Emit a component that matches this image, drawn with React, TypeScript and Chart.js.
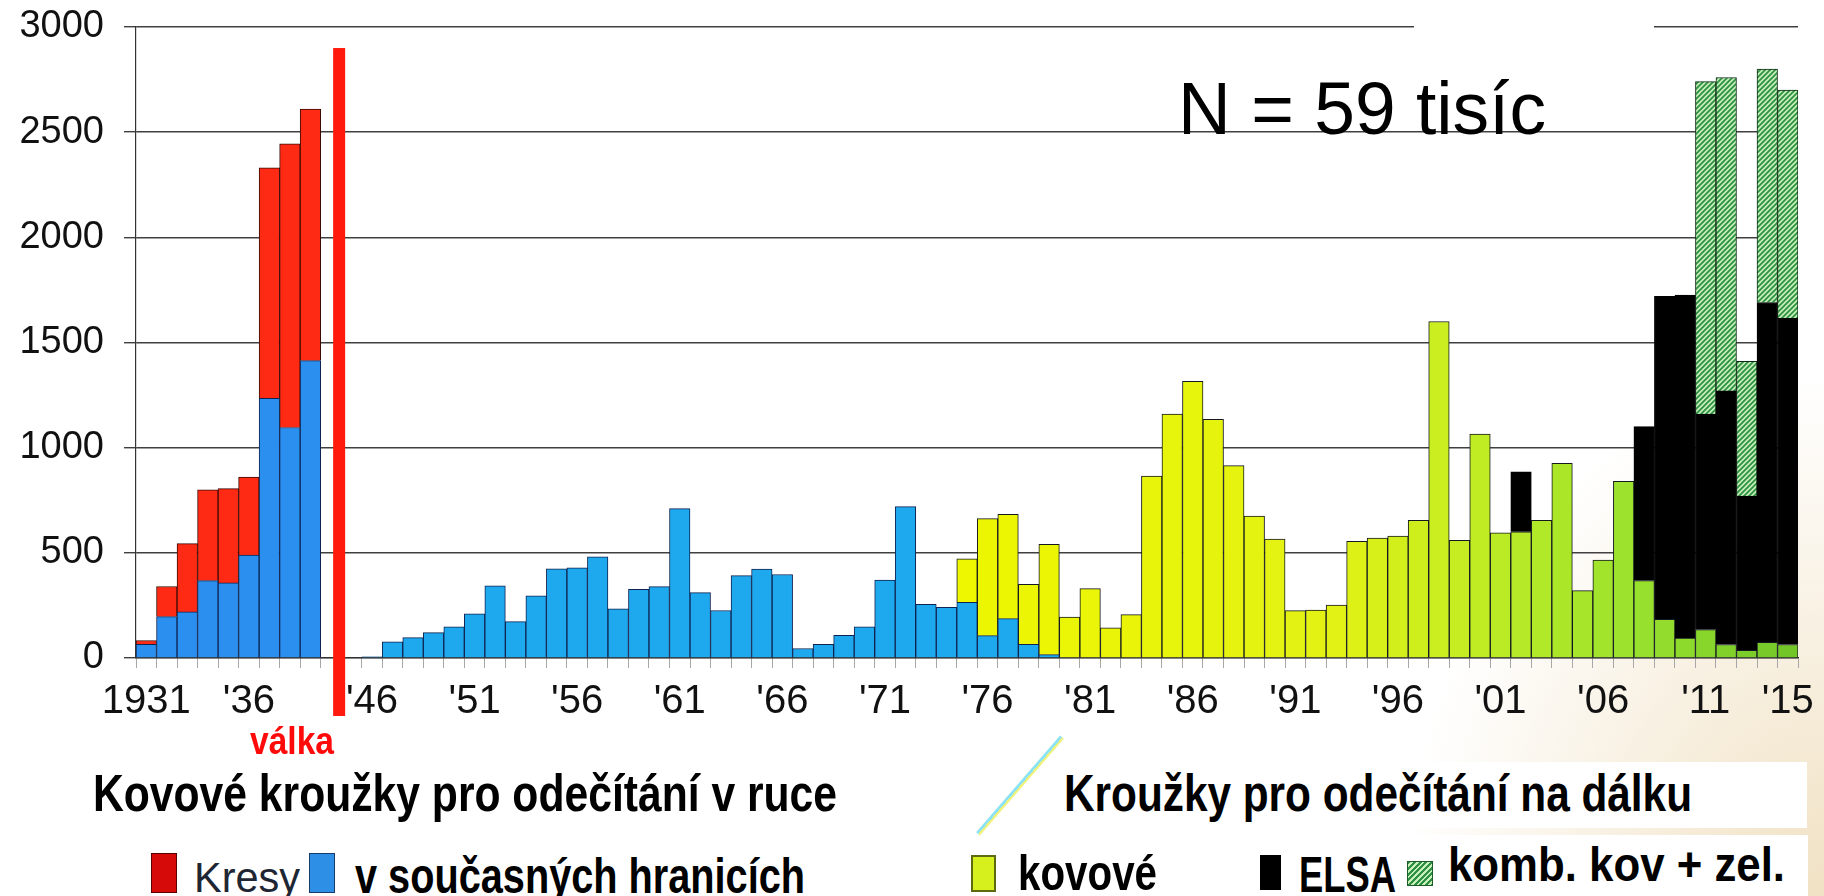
import React, { useEffect, useRef } from 'react';
import { Chart, registerables } from 'chart.js';

Chart.register(...registerables);

// ---------- DATA ----------
const categories = [
  '1931', '1932', '1933', '1934', '1935', '1936', '1937', '1938', '1939',
  '1940', '1945',
  '1946', '1947', '1948', '1949', '1950', '1951', '1952', '1953', '1954', '1955',
  '1956', '1957', '1958', '1959', '1960', '1961', '1962', '1963', '1964', '1965',
  '1966', '1967', '1968', '1969', '1970', '1971', '1972', '1973', '1974', '1975',
  '1976', '1977', '1978', '1979', '1980', '1981', '1982', '1983', '1984', '1985',
  '1986', '1987', '1988', '1989', '1990', '1991', '1992', '1993', '1994', '1995',
  '1996', '1997', '1998', '1999', '2000', '2001', '2002', '2003', '2004', '2005',
  '2006', '2007', '2008', '2009', '2010', '2011', '2012', '2013', '2014', '2015',
];

const N = null;

// v současných hranicích (blue)
const currentBorders = [
  65, 197, 219, 368, 357, 489, 1235, 1096, 1414,
  N, N,
  5, 77, 97, 121, 148, 210, 343, 173, 295, 424,
  429, 481, 234, 327, 339, 710, 311, 226, 392, 423,
  397, 45, 65, 108, 148, 371, 720, 255, 241, 265,
  106, 187, 65, 16, N, N, N, N, N, N,
  N, N, N, N, N, N, N, N, N, N,
  N, N, N, N, N, N, N, N, N, N,
  N, N, N, N, N, N, N, N, N, N,
];

// Kresy (red)
const kresy = [
  18, 143, 325, 432, 448, 371, 1096, 1349, 1196,
  N, N,
  N, N, N, N, N, N, N, N, N, N,
  N, N, N, N, N, N, N, N, N, N,
  N, N, N, N, N, N, N, N, N, N,
  N, N, N, N, N, N, N, N, N, N,
  N, N, N, N, N, N, N, N, N, N,
  N, N, N, N, N, N, N, N, N, N,
  N, N, N, N, N, N, N, N, N, N,
];

// kovové (yellow-green)
const kovove = [
  N, N, N, N, N, N, N, N, N,
  N, N,
  N, N, N, N, N, N, N, N, N, N,
  N, N, N, N, N, N, N, N, N, N,
  N, N, N, N, N, N, N, N, N, 207,
  557, 496, 285, 524, 195, 330, 143, 206, 865, 1160,
  1315, 1135, 915, 675, 565, 225, 228, 252, 555, 570,
  580, 655, 1600, 560, 1065, 595, 600, 655, 925, 320,
  465, 840, 368, 184, 95, 135, 64, 37, 74, 64,
];

// ELSA (black)
const elsa = [
  N, N, N, N, N, N, N, N, N,
  N, N,
  N, N, N, N, N, N, N, N, N, N,
  N, N, N, N, N, N, N, N, N, N,
  N, N, N, N, N, N, N, N, N, N,
  N, N, N, N, N, N, N, N, N, N,
  N, N, N, N, N, N, N, N, N, N,
  N, N, N, N, N, N, 285, N, N, N,
  N, N, 732, 1536, 1630, 1025, 1206, 733, 1616, 1551,
];

// komb. kov + zel. (hatched green)
const kombinovane = [
  N, N, N, N, N, N, N, N, N,
  N, N,
  N, N, N, N, N, N, N, N, N, N,
  N, N, N, N, N, N, N, N, N, N,
  N, N, N, N, N, N, N, N, N, N,
  N, N, N, N, N, N, N, N, N, N,
  N, N, N, N, N, N, N, N, N, N,
  N, N, N, N, N, N, N, N, N, N,
  N, N, N, N, N, 1580, 1490, 640, 1110, 1085,
];

const xTickYears = ['1931', '1936', '1946', '1951', '1956', '1961', '1966', '1971', '1976', '1981', '1986', '1991', '1996', '2001', '2006', '2011', '2015'];
const xTickTexts = ['1931', "'36", "'46", "'51", "'56", "'61", "'66", "'71", "'76", "'81", "'86", "'91", "'96", "'01", "'06", "'11", "'15"];

const warSlot = '1940';
const warLineTop = 2900;

// ---------- STYLE HELPERS ----------
const FONT = "'Liberation Sans', Arial, Helvetica, sans-serif";

const kovoveStops: [number, string][] = [
  [1975, '#eef600'],
  [1993, '#e2f214'],
  [2000, '#c0ec24'],
  [2008, '#98e02e'],
  [2015, '#72c628'],
];

function hexToRgb(h: string) {
  const n = parseInt(h.slice(1), 16);
  return [(n >> 16) & 255, (n >> 8) & 255, n & 255];
}

function kovoveColor(year: number) {
  if (year <= kovoveStops[0][0]) return kovoveStops[0][1];
  for (let i = 1; i < kovoveStops.length; i++) {
    const [y1, c1] = kovoveStops[i];
    const [y0, c0] = kovoveStops[i - 1];
    if (year <= y1) {
      const t = (year - y0) / (y1 - y0);
      const a = hexToRgb(c0);
      const b = hexToRgb(c1);
      const m = a.map((v, k) => Math.round(v + (b[k] - v) * t));
      return `rgb(${m[0]},${m[1]},${m[2]})`;
    }
  }
  return kovoveStops[kovoveStops.length - 1][1];
}

function makeHatch() {
  const s = 5;
  const c = document.createElement('canvas');
  c.width = s;
  c.height = s;
  const g = c.getContext('2d')!;
  g.fillStyle = '#c6f0b6';
  g.fillRect(0, 0, s, s);
  g.strokeStyle = '#2e9046';
  g.lineWidth = 1.8;
  g.beginPath();
  g.moveTo(0, s); g.lineTo(s, 0);
  g.moveTo(-1, 1); g.lineTo(1, -1);
  g.moveTo(s - 1, s + 1); g.lineTo(s + 1, s - 1);
  g.stroke();
  return g.createPattern(c, 'repeat')!;
}

const warLinePlugin = {
  id: 'warLine',
  afterDatasetsDraw(chart: any) {
    const { ctx, scales, chartArea } = chart;
    const x = scales.x;
    const y = scales.y;
    const idx = categories.indexOf(warSlot);
    const slot = x.width / categories.length;
    const cx = x.getPixelForValue(idx) + slot * 0.4;
    const top = y.getPixelForValue(warLineTop);
    const bottom = chartArea.bottom + 58;
    ctx.save();
    ctx.fillStyle = '#ff1a0d';
    ctx.fillRect(cx - 6, top, 12, bottom - top);
    ctx.restore();
  },
};

// ---------- TEXT ----------
let measureCtx: CanvasRenderingContext2D | null = null;
function measure(text: string, font: string) {
  if (!measureCtx) measureCtx = document.createElement('canvas').getContext('2d');
  measureCtx!.font = font;
  return measureCtx!.measureText(text).width;
}

function Txt(props: { text: string; left: number; baseline: number; size: number; bold?: boolean; width?: number; color?: string }) {
  const { text, left, baseline, size, bold, width, color } = props;
  const font = `${bold ? 'bold' : 'normal'} ${size}px ${FONT}`;
  const natural = measure(text, font);
  const sx = width ? width / natural : 1;
  return (
    <div
      style={{
        position: 'absolute',
        left,
        top: baseline - 0.8465 * size,
        font,
        lineHeight: `${size}px`,
        color: color || '#000',
        whiteSpace: 'nowrap',
        transform: `scaleX(${sx})`,
        transformOrigin: '0 0',
      }}
    >
      {text}
    </div>
  );
}

function Box(props: { left: number; top: number; width: number; height: number; style?: any }) {
  const { left, top, width, height, style } = props;
  return <div style={{ position: 'absolute', left, top, width, height, boxSizing: 'border-box', ...style }} />;
}

export default function App() {
  const ref = useRef<HTMLCanvasElement>(null);

  useEffect(() => {
    const canvas = ref.current!;
    const hatch = makeHatch();
    const border = '#141820';
    const chart = new Chart(canvas, {
      type: 'bar',
      data: {
        labels: categories,
        datasets: [
          {
            label: 'v současných hranicích',
            data: currentBorders,
            backgroundColor: (c: any) => (c.dataIndex <= 8 ? '#2a8fee' : '#1ea9ef'),
            borderColor: '#0f2350',
            borderWidth: 1,
            stack: 's',
          },
          {
            label: 'Kresy',
            data: kresy,
            backgroundColor: '#ff2a14',
            borderColor: '#3a0a05',
            borderWidth: 1,
            stack: 's',
          },
          {
            label: 'kovové',
            data: kovove,
            backgroundColor: (c: any) => kovoveColor(parseInt(categories[c.dataIndex], 10)),
            borderColor: border,
            borderWidth: 1,
            stack: 's',
          },
          {
            label: 'ELSA',
            data: elsa,
            backgroundColor: '#000000',
            borderColor: '#000000',
            borderWidth: 1,
            stack: 's',
          },
          {
            label: 'komb. kov + zel.',
            data: kombinovane,
            backgroundColor: hatch,
            borderColor: '#0e2a14',
            borderWidth: 1,
            stack: 's',
          },
        ] as any,
      },
      options: {
        animation: false,
        responsive: false,
        devicePixelRatio: 1,
        layout: { padding: { left: 0, right: 24, top: 27, bottom: 0 } },
        datasets: { bar: { barPercentage: 1, categoryPercentage: 1 } },
        plugins: { legend: { display: false }, tooltip: { enabled: false } },
        scales: {
          x: {
            stacked: true,
            afterFit: (s: any) => { s.height = 112; },
            grid: { drawOnChartArea: false, drawTicks: true, tickLength: 10, color: '#a8a8a8', offset: true },
            border: { display: true, color: '#333', width: 1.2 },
            ticks: {
              autoSkip: false,
              maxRotation: 0,
              minRotation: 0,
              padding: 10,
              color: '#111',
              font: { family: FONT, size: 40 },
              callback: (_v: any, i: number) => {
                const k = xTickYears.indexOf(categories[i]);
                return k >= 0 ? xTickTexts[k] : '';
              },
            },
          },
          y: {
            stacked: true,
            min: 0,
            max: 3000,
            afterFit: (s: any) => { s.width = 136; },
            grid: { color: '#404040', lineWidth: 1.4, drawTicks: true, tickLength: 12 },
            border: { display: true, color: '#333', width: 1.2 },
            ticks: {
              stepSize: 500,
              padding: 20,
              color: '#111',
              font: { family: FONT, size: 38, lineHeight: 0.3 },
              callback: (v: any) => String(v),
            },
          },
        },
      } as any,
      plugins: [warLinePlugin],
    });
    return () => chart.destroy();
  }, []);

  return (
    <div
      style={{
        position: 'absolute',
        left: 0,
        top: 0,
        width: 1824,
        height: 896,
        overflow: 'hidden',
        background:
          'radial-gradient(ellipse 420px 520px at 100% 100%, rgba(238,220,185,0.85) 0%, rgba(255,255,255,0) 100%), #ffffff',
      }}
    >
      <canvas ref={ref} width={1824} height={770} style={{ position: 'absolute', left: 0, top: 0, width: 1824, height: 770 }} />

      {/* gap in the top gridline behind the N label */}
      <Box left={1414} top={16} width={240} height={22} style={{ background: '#fff' }} />
      <Txt text="N = 59 tisíc" left={1178} baseline={135} size={74} width={368} />

      <Txt text="válka" left={250} baseline={754} size={38} bold width={84} color="#ff0a0a" />

      {/* thin diagonal stroke below the axis */}
      <div
        style={{
          position: 'absolute',
          left: 956,
          top: 783,
          width: 128,
          height: 5,
          background: 'linear-gradient(#7fe0f4 0 55%, #eef070 55% 100%)',
          transform: 'rotate(-49deg)',
          transformOrigin: '50% 50%',
          opacity: 0.9,
        }}
      />

      <Txt text="Kovové kroužky pro odečítání v ruce" left={93} baseline={811} size={52} bold width={744} />

      <Box left={1047} top={762} width={760} height={66} style={{ background: '#fff' }} />
      <Txt text="Kroužky pro odečítání na dálku" left={1064} baseline={811} size={52} bold width={628} />

      {/* legend */}
      <Box left={151} top={853} width={26} height={40} style={{ background: '#d70a0a', border: '1px solid #5a0000' }} />
      <Txt text="Kresy" left={194} baseline={892} size={43} width={106} color="#1e2633" />
      <Box left={309} top={853} width={26} height={40} style={{ background: '#2e8fe6', border: '1px solid #1a3a6a' }} />
      <Txt text="v současných hranicích" left={355} baseline={893} size={50} bold width={450} />

      <Box left={1396} top={835} width={412} height={61} style={{ background: '#fff' }} />
      <Box left={971} top={855} width={25} height={37} style={{ background: '#d6f01e', border: '2px solid #5d6a10' }} />
      <Txt text="kovové" left={1018} baseline={890} size={50} bold width={139} />
      <Box left={1260} top={855} width={21} height={35} style={{ background: '#000' }} />
      <Txt text="ELSA" left={1299} baseline={892} size={50} bold width={97} />
      <Box
        left={1407}
        top={861}
        width={26}
        height={25}
        style={{
          background: 'repeating-linear-gradient(135deg, #2e9046 0px, #2e9046 2px, #c6f0b6 2px, #c6f0b6 4px)',
          border: '1px solid #1f5a2a',
        }}
      />
      <Txt text="komb. kov + zel." left={1448} baseline={882} size={48} bold width={337} />
    </div>
  );
}
